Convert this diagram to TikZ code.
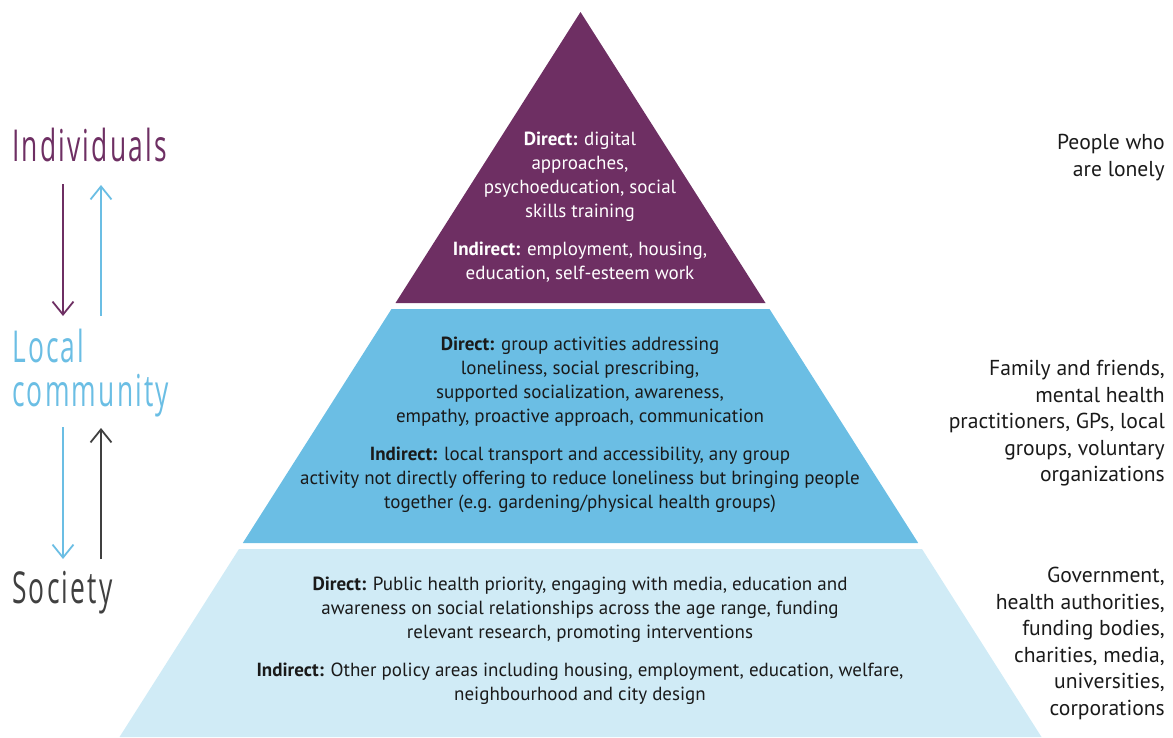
\documentclass[tikz,border=0pt]{standalone}
\usepackage{fontspec}
\setmainfont{PT Sans}
\newfontfamily\levelfont[FakeStretch=0.6,LetterSpace=5]{Open Sans}
\usetikzlibrary{arrows.meta,positioning}
\definecolor{lonpurple}{RGB}{110,47,99}
\definecolor{lonblue}{RGB}{107,190,228}
\definecolor{lonpale}{RGB}{208,235,246}
\definecolor{londark}{RGB}{64,64,64}
\definecolor{lontext}{RGB}{26,26,26}

\begin{document}
\begin{tikzpicture}[x=1pt,y=-1pt,
        tiertext/.style={align=center, anchor=north, inner sep=0pt, text=lontext,
          font=\fontsize{19}{24}\selectfont},
        side/.style={align=right, anchor=north east, inner sep=0pt, text=lontext,
          font=\fontsize{21.6}{26.5}\selectfont},
        level/.style={anchor=base west, inner sep=0pt, font=\levelfont\fontsize{44}{44}\selectfont},
        link/.style={-{Straight Barb[length=13pt,width=21pt]}, line width=1.8pt}
      ]
      \useasboundingbox (0,0) rectangle (1173,737);

      % pyramid tiers
      \fill[lonpurple] (580.5,12) -- (765.5,303) -- (395.5,303) -- cycle;
      \fill[lonblue] (391.5,309) -- (769.5,309) -- (918.2,543) -- (242.8,543) -- cycle;
      \fill[lonpale] (239,549) -- (922,549) -- (1041.5,737) -- (119.5,737) -- cycle;

      % tier texts
      \node[tiertext, text=white] (indiv) at (580,131.5)
        {\textbf{Direct:} digital\\approaches,\\psychoeducation, social\\skills training\\[14pt]
         \textbf{Indirect:} employment, housing,\\education, self-esteem work};
      \node[tiertext] (commun) at (580,336.5)
        {\textbf{Direct:} group activities addressing\\loneliness, social prescribing,\\
         supported socialization, awareness,\\empathy, proactive approach, communication\\[14pt]
         \textbf{Indirect:} local transport and accessibility, any group\\
         activity not directly offering to reduce loneliness but bringing people\\
         together (e.g. gardening/physical health groups)};
      \node[tiertext] (societ) at (580,576.5)
        {\textbf{Direct:} Public health priority, engaging with media, education and\\
         awareness on social relationships across the age range, funding\\
         relevant research, promoting interventions\\[14pt]
         \textbf{Indirect:} Other policy areas including housing, employment, education, welfare,\\
         neighbourhood and city design};

      % actors
      \node[side] (lonely) at (1165,134.5) {People who\\are lonely};
      \node[side] (carers) at (1165,360)
        {Family and friends,\\mental health\\practitioners, GPs, local\\groups, voluntary\\organizations};
      \node[side] (bodies) at (1165,567)
        {Government,\\health authorities,\\funding bodies,\\charities, media,\\universities,\\corporations};

      % levels
      \node[level, text=lonpurple] (lvind) at (12,161) {Individuals};
      \node[level, text=lonblue] (lvloc) at (12,362) {Local};
      \node[level, text=lonblue, below=0pt of lvloc.base west, anchor=base west, yshift=-44pt] (lvcom) {community};
      \node[level, text=londark] (lvsoc) at (12,603) {Society};

      \coordinate (indL) at (63,184);
      \coordinate (indR) at (101,185);
      \coordinate (locLt) at (63,316);
      \coordinate (locRt) at (101,316);
      \coordinate (locLb) at (63,427);
      \coordinate (locRb) at (101,428);
      \coordinate (socL) at (63,559);
      \coordinate (socR) at (101,559);

      \draw[link, draw=lonpurple] (indL) -- (locLt);
      \draw[link, draw=lonblue] (locRt) -- (indR);
      \draw[link, draw=lonblue] (locLb) -- (socL);
      \draw[link, draw=londark] (socR) -- (locRb);
    \end{tikzpicture}
\end{document}
